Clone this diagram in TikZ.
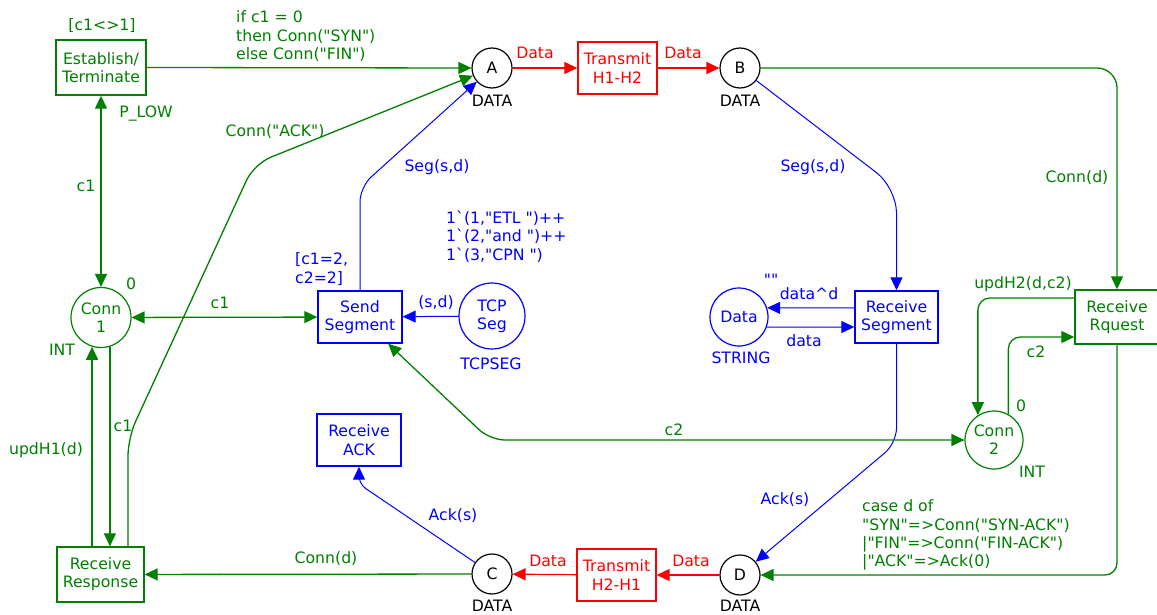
\documentclass[tikz,border=0pt]{standalone}
\usepackage{fontspec}
\newfontfamily\dvs{DejaVu Sans}
\usetikzlibrary{arrows.meta}
\definecolor{cpng}{RGB}{0,128,0}
\definecolor{cpnb}{RGB}{0,0,255}
\definecolor{cpnr}{RGB}{255,0,0}
\begin{document}
\begin{tikzpicture}[x=1pt,y=-1pt,
  every node/.style={font=\dvs\fontsize{15.7}{18.3}\selectfont, inner sep=0pt},
  >={Triangle[length=13pt,width=12pt]},
  trans/.style={draw, rectangle, line width=1.4pt, align=center},
  place/.style={draw, circle, line width=1.2pt, align=center},
  gl/.style={draw=cpng, line width=1.3pt},
  bl/.style={draw=cpnb, line width=1pt},
  rl/.style={draw=cpnr, line width=1.2pt},
  gt/.style={text=cpng},
  bt/.style={text=cpnb},
  rt/.style={text=cpnr},
  kt/.style={text=black},
  ml/.style={anchor=north west, align=left}
]
\fill[white] (0,0) rectangle (1157,615);
\useasboundingbox (0,0) rectangle (1157,615);

% transitions
\node[trans, draw=cpng, gt, minimum width=90pt, minimum height=55pt] (ET) at (101,67.5) {Establish/\\Terminate};
\node[trans, draw=cpnr, rt, minimum width=79pt, minimum height=52pt] (T12) at (617.5,68) {Transmit\\H1-H2};
\node[trans, draw=cpnb, bt, minimum width=83pt, minimum height=52pt] (RS) at (896.5,317) {Receive\\Segment};
\node[trans, draw=cpnb, bt, minimum width=84pt, minimum height=52pt] (SS) at (360,317) {Send\\Segment};
\node[trans, draw=cpng, minimum width=92pt, minimum height=54pt] (RR) at (1121,317) {};
\node[gt] (RRt) at (1117,317) [align=center] {Receive\\Rquest};
\node[trans, draw=cpnb, bt, minimum width=84pt, minimum height=52pt] (RACK) at (359,440) {Receive\\ACK};
\node[trans, draw=cpng, gt, minimum width=87pt, minimum height=55pt] (RResp) at (100.5,574.5) {Receive\\Response};
\node[trans, draw=cpnr, rt, minimum width=79pt, minimum height=52pt] (T21) at (616.5,575) {Transmit\\H2-H1};

% places
\node[place, draw=black, kt, minimum size=40pt] (A) at (492,68) {A};
\node[place, draw=black, kt, minimum size=40pt] (B) at (740,68) {B};
\node[place, draw=black, kt, minimum size=40pt] (C) at (492,574) {C};
\node[place, draw=black, kt, minimum size=40pt] (D) at (740,575) {D};
\node[place, draw=cpng, gt, minimum size=60pt] (C1) at (101,317.5) {Conn\\1};
\node[place, draw=cpng, gt, minimum size=58pt] (C2) at (994,440) {Conn\\2};
\node[place, draw=cpnb, bt, minimum size=66pt] (TCP) at (492,316) {TCP\\Seg};
\node[place, draw=cpnb, bt, minimum size=58pt] (Data) at (739,317) {Data};

% bend points
\coordinate (kb1) at (896.5,188);
\coordinate (kb2) at (896.5,443);
\coordinate (kb3) at (359,484);
\coordinate (kb4) at (360,187);
\coordinate (kg1) at (490,440);
\coordinate (kg2) at (128,438);
\coordinate (kg3) at (254,164);
\coordinate (rrn) at ([xshift=-4pt]RR.north);
\coordinate (rrs) at ([xshift=-4pt]RR.south);

% arcs
\draw[gl,->] (ET.east) -- (A.west);
\draw[rl,->] (A) -- (T12);
\draw[rl,->] (T12) -- (B);
\draw[gl,->,rounded corners=20pt] (B.east) -| (rrn);
\draw[bl,->,rounded corners=25pt] (B) -- (kb1) -- (RS.north);
\draw[bl,->] ([yshift=9pt]RS.west) -- (Data.18);
\draw[bl,->] (Data.-20) -- ([yshift=-10pt]RS.west);
\draw[bl,->,rounded corners=15pt] (RS.south) -- (kb2) -- (D);
\draw[gl,->,rounded corners=12pt] (rrs) |- (D.east);
\draw[gl,->,rounded corners=12pt] ([yshift=19pt]RR.west) -| (C2.123);
\draw[gl,->,rounded corners=12pt] (C2.61) |- ([yshift=-20pt]RR.west);
\draw[gl,<->,rounded corners=15pt] (C2.west) -- (kg1) -- (SS);
\draw[rl,->] (D) -- (T21);
\draw[rl,->] (T21) -- (C);
\draw[gl,->] (C) -- (RResp);
\draw[bl,->,rounded corners=8pt] (C) -- (kb3) -- (RACK.south);
\draw[bl,->,rounded corners=15pt] (SS.north) -- (kb4) -- (A);
\draw[bl,->] (TCP) -- (SS);
\draw[gl,<->] (C1) -- (SS);
\draw[gl,<->] (ET) -- (C1);
\draw[gl,->] (RResp.north -| C1.-107) -- (C1.-107);
\draw[gl,->] (C1.-73) -- (C1.-73 |- RResp.north);
\draw[gl,->,rounded corners=18pt] (RResp.north -| kg2) -- (kg2) -- (kg3) -- (A);

% inscriptions
\node[gt] (l1) at (102,26) {[c1<>1]};
\node[gt, ml] (l2) at (236,10.7) {if c1 = 0\\then Conn("SYN")\\else Conn("FIN")};
\node[gt] (l3) at (146,114) {P\_LOW};
\node[gt] (l4) at (86,186) {c1};
\node[gt] (l5) at (275,132) {Conn("ACK")};
\node[bt] (l6) at (437,167) {Seg(s,d)};
\node[bt] (l7) at (813,167) {Seg(s,d)};
\node[gt] (l8) at (1077,178) {Conn(d)};
\node[rt] (l9) at (535,53) {Data};
\node[rt] (l10) at (683,53) {Data};
\node[kt] (l11) at (492,101) {DATA};
\node[kt] (l12) at (740,101) {DATA};
\node[kt] (l13) at (492,606) {DATA};
\node[kt] (l14) at (740,606) {DATA};
\node[gt] (l15) at (131,284) {0};
\node[gt] (l16) at (62,350) {INT};
\node[gt] (l17) at (220,303) {c1};
\node[bt] (l18) at (436,303) {(s,d)};
\node[bt] (l19) at (491,364) {TCPSEG};
\node[bt, ml] (l20) at (446,210.7) {1\textasciigrave(1,"ETL ")++\\1\textasciigrave(2,"and ")++\\1\textasciigrave(3,"CPN ")};
\node[bt, ml] (l21) at (295,252.7) {[c1=2,\\c2=2]};
\node[bt] (l22) at (771,280) {""};
\node[bt] (l23) at (809,294) {data\textasciicircum d};
\node[bt] (l24) at (804,341) {data};
\node[bt] (l25) at (741,358) {STRING};
\node[gt] (l26) at (1023,284) {updH2(d,c2)};
\node[gt] (l27) at (1036,352) {c2};
\node[gt] (l28) at (1021,406) {0};
\node[gt] (l29) at (1032,472) {INT};
\node[gt] (l30) at (674,430) {c2};
\node[gt] (l31) at (123,426) {c1};
\node[gt] (l32) at (46,450) {updH1(d)};
\node[bt] (l33) at (453,516) {Ack(s)};
\node[bt] (l34) at (785,500) {Ack(s)};
\node[gt] (l35) at (326,559) {Conn(d)};
\node[rt] (l36) at (548,561) {Data};
\node[rt] (l37) at (691,561) {Data};
\node[gt, ml] (l38) at (862,499.7) {case d of\\"SYN"=>Conn("SYN-ACK")\\|"FIN"=>Conn("FIN-ACK")\\|"ACK"=>Ack(0)};
\end{tikzpicture}
\end{document}
